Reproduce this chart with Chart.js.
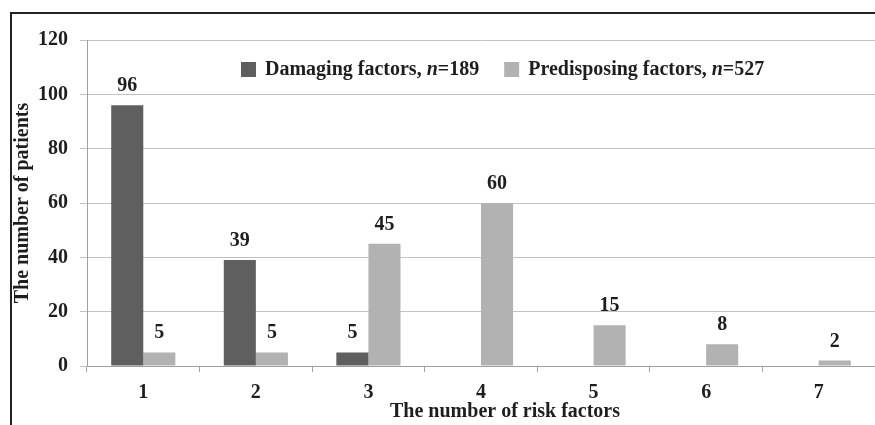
<!DOCTYPE html>
<html>
<head>
<meta charset="utf-8">
<script src="https://cdn.jsdelivr.net/npm/chart.js@4"></script>
<style>
  html, body { margin: 0; padding: 0; background: #fff; overflow: hidden; }
  #wrap { width: 875px; height: 425px; position: relative; }
</style>
</head>
<body>
<div id="wrap"><canvas id="riskChart"></canvas></div>
<script>
// 위험 인자 수에 따른 환자 수
const categories = ['1', '2', '3', '4', '5', '6', '7'];
const damaging = [96, 39, 5, 0, 0, 0, 0];
const predisposing = [5, 5, 45, 60, 15, 8, 2];
const seriesNames = ['Damaging factors', 'Predisposing factors'];
const seriesN = [189, 527];
const yTicks = [0, 20, 40, 60, 80, 100, 120];
const xTitle = 'The number of risk factors';
const yTitle = 'The number of patients';

const FONT = '"Liberation Serif", "DejaVu Serif", serif';
const DARK = '#5f5f5f';
const LIGHT = '#b2b2b2';
const TEXT = '#1e1e1e';

// 바깥 테두리 (위, 왼쪽)
const framePlugin = {
    id: 'frame',
    beforeDraw(chart) {
        const c = chart.ctx;
        c.save();
        c.strokeStyle = '#222';
        c.lineWidth = 2;
        c.beginPath();
        c.moveTo(875, 13);
        c.lineTo(11, 13);
        c.lineTo(11, 425);
        c.stroke();
        c.restore();
    }
};

// 막대 위 값 표시
const valueLabels = {
    id: 'valueLabels',
    afterDatasetsDraw(chart) {
        const c = chart.ctx;
        c.save();
        c.font = 'bold 20px ' + FONT;
        c.fillStyle = TEXT;
        c.textAlign = 'center';
        c.textBaseline = 'alphabetic';
        chart.data.datasets.forEach((ds, i) => {
            chart.getDatasetMeta(i).data.forEach((bar, j) => {
                if (!ds.data[j]) return;
                c.fillText(ds.data[j], bar.x, bar.y - 14);
            });
        });
        c.restore();
    }
};

// 범례 (n 이탤릭) + x축 제목
const legendPlugin = {
    id: 'customLegend',
    afterDraw(chart) {
        const c = chart.ctx;
        const area = chart.chartArea;
        const y = 70;
        let x = area.left + 154;
        c.save();
        c.textBaseline = 'middle';
        chart.data.datasets.forEach((ds, i) => {
            c.fillStyle = ds.backgroundColor;
            c.fillRect(x, y - 8, 15, 15);
            x += 24;
            c.fillStyle = TEXT;
            const parts = [
                ['bold ', seriesNames[i] + ', '],
                ['italic bold ', 'n'],
                ['bold ', '=' + seriesN[i]]
            ];
            parts.forEach(([style, txt]) => {
                c.font = style + '20px ' + FONT;
                c.fillText(txt, x, y);
                x += c.measureText(txt).width;
            });
            x += 25;
        });

        c.font = 'bold 20px ' + FONT;
        c.textAlign = 'center';
        c.fillStyle = TEXT;
        c.fillText(xTitle, area.left + 418, 412);
        c.restore();
    }
};

new Chart(document.getElementById('riskChart'), {
    type: 'bar',
    data: {
        labels: categories,
        datasets: [{
            label: seriesNames[0],
            data: damaging,
            backgroundColor: DARK,
            barPercentage: 1.0,
            categoryPercentage: 0.57
        }, {
            label: seriesNames[1],
            data: predisposing,
            backgroundColor: LIGHT,
            barPercentage: 1.0,
            categoryPercentage: 0.57
        }]
    },
    options: {
        responsive: true,
        maintainAspectRatio: false,
        animation: false,
        layout: { padding: { left: 11, right: -3, top: 40, bottom: 0 } },
        plugins: {
            legend: { display: false },
            tooltip: { enabled: false }
        },
        scales: {
            x: {
                grid: { display: true, drawOnChartArea: false, offset: true, tickLength: 6, color: '#a0a0a0' },
                border: { color: '#a0a0a0', width: 1 },
                ticks: { color: TEXT, font: { family: FONT, size: 20, weight: 'bold' }, padding: 9 },
                afterFit: s => { s.height = 59; }
            },
            y: {
                min: 0,
                max: 120,
                afterBuildTicks: s => { s.ticks = yTicks.map(v => ({ value: v })); },
                grid: { color: '#c2c2c2', tickLength: 7 },
                border: { color: '#a0a0a0', width: 1 },
                ticks: { color: TEXT, font: { family: FONT, size: 20, weight: 'bold' }, padding: 12 },
                title: {
                    display: true,
                    text: yTitle,
                    color: TEXT,
                    font: { family: FONT, size: 20, weight: 'bold' },
                    padding: { top: 0, bottom: 0 }
                },
                afterFit: s => { s.width = 76; }
            }
        }
    },
    plugins: [framePlugin, valueLabels, legendPlugin]
});
</script>
</body>
</html>
